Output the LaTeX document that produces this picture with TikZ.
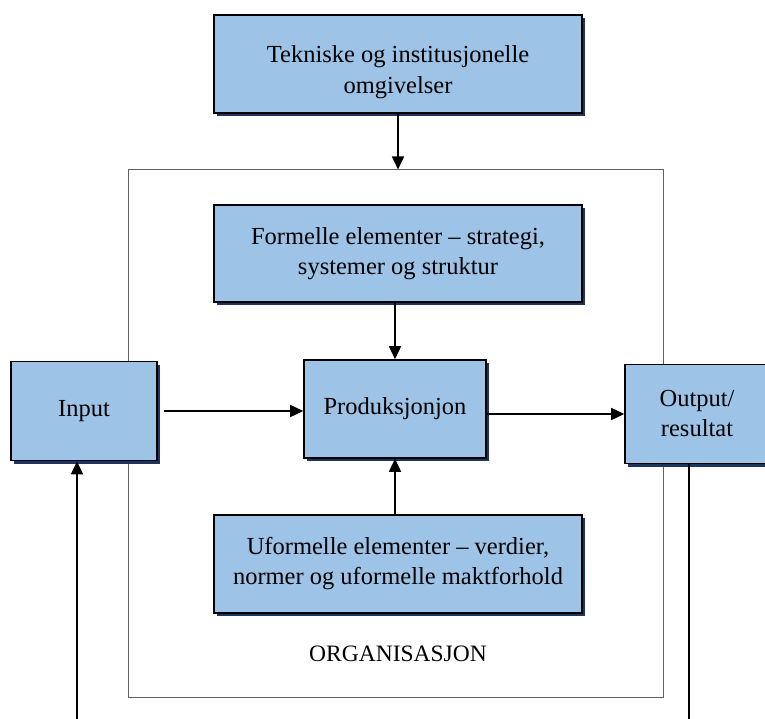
\documentclass[tikz,border=0pt]{standalone}
\usepackage{fontspec}
\setmainfont{Liberation Serif}
\usetikzlibrary{shadows,arrows.meta}
\definecolor{boxfill}{HTML}{9DC3E6}
\definecolor{boxshade}{HTML}{1F3560}
\definecolor{framegray}{HTML}{606060}
\begin{document}
\begin{tikzpicture}[x=1pt,y=-1pt,
  blockbox/.style={draw=black, line width=1.6pt, fill=boxfill, align=center,
    inner sep=0pt, font=\fontsize{24.5}{30}\selectfont,
    drop shadow={shadow xshift=3pt, shadow yshift=-3pt, fill=boxshade, opacity=1}},
  blocktext/.style={align=center, inner sep=0pt, font=\fontsize{24.5}{31}\selectfont},
  orgframe/.style={draw=framegray, line width=1pt, inner sep=0pt},
  arr/.style={draw=black, line width=1.6pt, -{Triangle[length=13pt,width=12pt]}},
  plain/.style={draw=black, line width=1.6pt}]
\useasboundingbox (0,0) rectangle (765,719);

% organisation frame
\node[orgframe, minimum width=535pt, minimum height=527pt] (org) at (395.5,433.5) {};
\node[font=\fontsize{23.5}{28}\selectfont] (orglabel) at (398,654) {ORGANISASJON};

% blocks
\node[blockbox, minimum width=368pt, minimum height=98pt] (tek) at (398,64) {};
\node[blocktext] (tektext) at (398,72) {Tekniske og institusjonelle\\omgivelser};
\node[blockbox, minimum width=368pt, minimum height=97pt] (form) at (398,253.5)
  {Formelle elementer – strategi,\\systemer og struktur};
\node[blockbox, minimum width=182pt, minimum height=98pt] (prod) at (395,409)
  {Produksjonjon};
\node[blockbox, minimum width=368pt, minimum height=98pt] (uform) at (398,564)
  {Uformelle elementer – verdier,\\normer og uformelle maktforhold};
\node[blockbox, minimum width=146pt, minimum height=99pt] (inp) at (84,411)
  {Input};
\node[blockbox, minimum width=144pt, minimum height=99pt] (out) at (697,414)
  {Output/\\resultat};

% loose ends at the lower edge
\coordinate (inbot) at (77,719);
\coordinate (outbot) at (689,719);

% connectors
\draw[arr] (tek.south) -- (tek.south |- org.north);
\draw[arr] (form.south -| prod.north) -- (prod.north);
\draw[arr] (uform.north -| prod.south) -- (prod.south);
\draw[arr, shorten <=6pt] (inp.east) -- (inp.east -| prod.west);
\draw[arr] (prod.east |- out.west) -- (out.west);
\draw[arr] (inbot) -- (inbot |- inp.south);
\draw[plain] (out.south -| outbot) -- (outbot);
\end{tikzpicture}
\end{document}
